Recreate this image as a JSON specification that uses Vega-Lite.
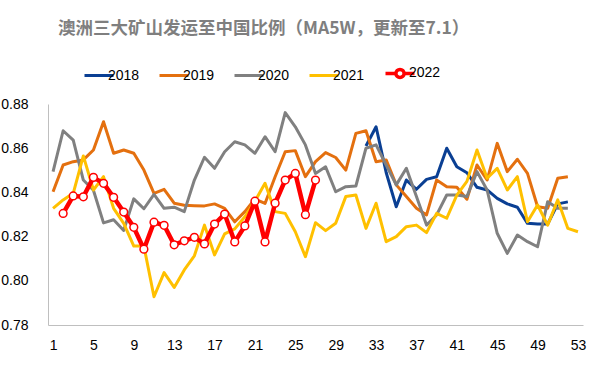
{
  "$schema": "https://vega.github.io/schema/vega-lite/v6.json",
  "width": 535,
  "height": 221,
  "autosize": {"type": "none"},
  "padding": {"left": 48, "top": 104, "right": 8, "bottom": 42},
  "background": "white",
  "title": {
    "text": "澳洲三大矿山发运至中国比例（MA5W，更新至7.1）",
    "anchor": "start",
    "frame": "group",
    "dx": 10,
    "offset": 29,
    "font": "Noto Sans CJK SC",
    "fontSize": 17.5,
    "fontWeight": "bold",
    "color": "#7f7f7f"
  },
  "config": {
    "view": {"stroke": null},
    "axis": {
      "grid": false,
      "ticks": false,
      "domainColor": "#bfbfbf",
      "domainWidth": 1,
      "labelFont": "Liberation Sans",
      "labelFontSize": 14,
      "labelColor": "#000000",
      "title": null
    }
  },
  "data": {
    "values": [
      {"week": 32, "year": "2018", "value": 0.861},
      {"week": 33, "year": "2018", "value": 0.8697},
      {"week": 34, "year": "2018", "value": 0.849},
      {"week": 35, "year": "2018", "value": 0.8335},
      {"week": 36, "year": "2018", "value": 0.8456},
      {"week": 37, "year": "2018", "value": 0.8414},
      {"week": 38, "year": "2018", "value": 0.8459},
      {"week": 39, "year": "2018", "value": 0.8471},
      {"week": 40, "year": "2018", "value": 0.86},
      {"week": 41, "year": "2018", "value": 0.8516},
      {"week": 42, "year": "2018", "value": 0.8489},
      {"week": 43, "year": "2018", "value": 0.8423},
      {"week": 44, "year": "2018", "value": 0.8411},
      {"week": 45, "year": "2018", "value": 0.8373},
      {"week": 46, "year": "2018", "value": 0.8348},
      {"week": 47, "year": "2018", "value": 0.8333},
      {"week": 48, "year": "2018", "value": 0.826},
      {"week": 49, "year": "2018", "value": 0.8257},
      {"week": 50, "year": "2018", "value": 0.8257},
      {"week": 51, "year": "2018", "value": 0.8348},
      {"week": 52, "year": "2018", "value": 0.8357},
      {"week": 1, "year": "2019", "value": 0.8403},
      {"week": 2, "year": "2019", "value": 0.8524},
      {"week": 3, "year": "2019", "value": 0.8539},
      {"week": 4, "year": "2019", "value": 0.8547},
      {"week": 5, "year": "2019", "value": 0.8592},
      {"week": 6, "year": "2019", "value": 0.872},
      {"week": 7, "year": "2019", "value": 0.8577},
      {"week": 8, "year": "2019", "value": 0.8592},
      {"week": 9, "year": "2019", "value": 0.8577},
      {"week": 10, "year": "2019", "value": 0.8501},
      {"week": 11, "year": "2019", "value": 0.8396},
      {"week": 12, "year": "2019", "value": 0.8414},
      {"week": 13, "year": "2019", "value": 0.8351},
      {"week": 14, "year": "2019", "value": 0.8342},
      {"week": 15, "year": "2019", "value": 0.834},
      {"week": 16, "year": "2019", "value": 0.8339},
      {"week": 17, "year": "2019", "value": 0.8348},
      {"week": 18, "year": "2019", "value": 0.8328},
      {"week": 19, "year": "2019", "value": 0.8267},
      {"week": 20, "year": "2019", "value": 0.8313},
      {"week": 21, "year": "2019", "value": 0.837},
      {"week": 22, "year": "2019", "value": 0.835},
      {"week": 23, "year": "2019", "value": 0.8471},
      {"week": 24, "year": "2019", "value": 0.8584},
      {"week": 25, "year": "2019", "value": 0.8589},
      {"week": 26, "year": "2019", "value": 0.8471},
      {"week": 27, "year": "2019", "value": 0.8539},
      {"week": 28, "year": "2019", "value": 0.858},
      {"week": 29, "year": "2019", "value": 0.8558},
      {"week": 30, "year": "2019", "value": 0.8501},
      {"week": 31, "year": "2019", "value": 0.8667},
      {"week": 32, "year": "2019", "value": 0.8679},
      {"week": 33, "year": "2019", "value": 0.8539},
      {"week": 34, "year": "2019", "value": 0.8547},
      {"week": 35, "year": "2019", "value": 0.8434},
      {"week": 36, "year": "2019", "value": 0.8381},
      {"week": 37, "year": "2019", "value": 0.8328},
      {"week": 38, "year": "2019", "value": 0.8298},
      {"week": 39, "year": "2019", "value": 0.8456},
      {"week": 40, "year": "2019", "value": 0.8426},
      {"week": 41, "year": "2019", "value": 0.8423},
      {"week": 42, "year": "2019", "value": 0.8369},
      {"week": 43, "year": "2019", "value": 0.8524},
      {"week": 44, "year": "2019", "value": 0.8456},
      {"week": 45, "year": "2019", "value": 0.8622},
      {"week": 46, "year": "2019", "value": 0.8494},
      {"week": 47, "year": "2019", "value": 0.855},
      {"week": 48, "year": "2019", "value": 0.8486},
      {"week": 49, "year": "2019", "value": 0.8335},
      {"week": 50, "year": "2019", "value": 0.8328},
      {"week": 51, "year": "2019", "value": 0.8464},
      {"week": 52, "year": "2019", "value": 0.8471},
      {"week": 1, "year": "2020", "value": 0.8494},
      {"week": 2, "year": "2020", "value": 0.8679},
      {"week": 3, "year": "2020", "value": 0.8637},
      {"week": 4, "year": "2020", "value": 0.8456},
      {"week": 5, "year": "2020", "value": 0.841},
      {"week": 6, "year": "2020", "value": 0.8262},
      {"week": 7, "year": "2020", "value": 0.8276},
      {"week": 8, "year": "2020", "value": 0.8228},
      {"week": 9, "year": "2020", "value": 0.8371},
      {"week": 10, "year": "2020", "value": 0.8326},
      {"week": 11, "year": "2020", "value": 0.8391},
      {"week": 12, "year": "2020", "value": 0.8328},
      {"week": 13, "year": "2020", "value": 0.8333},
      {"week": 14, "year": "2020", "value": 0.8313},
      {"week": 15, "year": "2020", "value": 0.8456},
      {"week": 16, "year": "2020", "value": 0.8559},
      {"week": 17, "year": "2020", "value": 0.8509},
      {"week": 18, "year": "2020", "value": 0.8584},
      {"week": 19, "year": "2020", "value": 0.8629},
      {"week": 20, "year": "2020", "value": 0.8615},
      {"week": 21, "year": "2020", "value": 0.8577},
      {"week": 22, "year": "2020", "value": 0.8652},
      {"week": 23, "year": "2020", "value": 0.8584},
      {"week": 24, "year": "2020", "value": 0.8761},
      {"week": 25, "year": "2020", "value": 0.8697},
      {"week": 26, "year": "2020", "value": 0.8615},
      {"week": 27, "year": "2020", "value": 0.8486},
      {"week": 28, "year": "2020", "value": 0.8516},
      {"week": 29, "year": "2020", "value": 0.8403},
      {"week": 30, "year": "2020", "value": 0.8426},
      {"week": 31, "year": "2020", "value": 0.8429},
      {"week": 32, "year": "2020", "value": 0.86},
      {"week": 33, "year": "2020", "value": 0.8615},
      {"week": 34, "year": "2020", "value": 0.8524},
      {"week": 35, "year": "2020", "value": 0.8434},
      {"week": 36, "year": "2020", "value": 0.8509},
      {"week": 37, "year": "2020", "value": 0.8381},
      {"week": 38, "year": "2020", "value": 0.8252},
      {"week": 39, "year": "2020", "value": 0.8298},
      {"week": 40, "year": "2020", "value": 0.8388},
      {"week": 41, "year": "2020", "value": 0.8388},
      {"week": 42, "year": "2020", "value": 0.8381},
      {"week": 43, "year": "2020", "value": 0.8494},
      {"week": 44, "year": "2020", "value": 0.8411},
      {"week": 45, "year": "2020", "value": 0.8215},
      {"week": 46, "year": "2020", "value": 0.8124},
      {"week": 47, "year": "2020", "value": 0.8207},
      {"week": 48, "year": "2020", "value": 0.8177},
      {"week": 49, "year": "2020", "value": 0.8154},
      {"week": 50, "year": "2020", "value": 0.8358},
      {"week": 51, "year": "2020", "value": 0.8328},
      {"week": 52, "year": "2020", "value": 0.8328},
      {"week": 1, "year": "2021", "value": 0.8328},
      {"week": 2, "year": "2021", "value": 0.8366},
      {"week": 3, "year": "2021", "value": 0.8396},
      {"week": 4, "year": "2021", "value": 0.8565},
      {"week": 5, "year": "2021", "value": 0.8411},
      {"week": 6, "year": "2021", "value": 0.8471},
      {"week": 7, "year": "2021", "value": 0.8328},
      {"week": 8, "year": "2021", "value": 0.826},
      {"week": 9, "year": "2021", "value": 0.8157},
      {"week": 10, "year": "2021", "value": 0.8157},
      {"week": 11, "year": "2021", "value": 0.7928},
      {"week": 12, "year": "2021", "value": 0.8037},
      {"week": 13, "year": "2021", "value": 0.797},
      {"week": 14, "year": "2021", "value": 0.8049},
      {"week": 15, "year": "2021", "value": 0.8113},
      {"week": 16, "year": "2021", "value": 0.8252},
      {"week": 17, "year": "2021", "value": 0.8117},
      {"week": 18, "year": "2021", "value": 0.8212},
      {"week": 19, "year": "2021", "value": 0.8235},
      {"week": 20, "year": "2021", "value": 0.829},
      {"week": 21, "year": "2021", "value": 0.836},
      {"week": 22, "year": "2021", "value": 0.8441},
      {"week": 23, "year": "2021", "value": 0.8313},
      {"week": 24, "year": "2021", "value": 0.8305},
      {"week": 25, "year": "2021", "value": 0.8222},
      {"week": 26, "year": "2021", "value": 0.8109},
      {"week": 27, "year": "2021", "value": 0.8263},
      {"week": 28, "year": "2021", "value": 0.8227},
      {"week": 29, "year": "2021", "value": 0.826},
      {"week": 30, "year": "2021", "value": 0.8381},
      {"week": 31, "year": "2021", "value": 0.8388},
      {"week": 32, "year": "2021", "value": 0.8237},
      {"week": 33, "year": "2021", "value": 0.8351},
      {"week": 34, "year": "2021", "value": 0.8177},
      {"week": 35, "year": "2021", "value": 0.82},
      {"week": 36, "year": "2021", "value": 0.8245},
      {"week": 37, "year": "2021", "value": 0.8252},
      {"week": 38, "year": "2021", "value": 0.8218},
      {"week": 39, "year": "2021", "value": 0.8305},
      {"week": 40, "year": "2021", "value": 0.8283},
      {"week": 41, "year": "2021", "value": 0.8388},
      {"week": 42, "year": "2021", "value": 0.845},
      {"week": 43, "year": "2021", "value": 0.8592},
      {"week": 44, "year": "2021", "value": 0.8464},
      {"week": 45, "year": "2021", "value": 0.8509},
      {"week": 46, "year": "2021", "value": 0.8411},
      {"week": 47, "year": "2021", "value": 0.8471},
      {"week": 48, "year": "2021", "value": 0.8267},
      {"week": 49, "year": "2021", "value": 0.8343},
      {"week": 50, "year": "2021", "value": 0.8252},
      {"week": 51, "year": "2021", "value": 0.8366},
      {"week": 52, "year": "2021", "value": 0.8237},
      {"week": 53, "year": "2021", "value": 0.8222},
      {"week": 2, "year": "2022", "value": 0.8305},
      {"week": 3, "year": "2022", "value": 0.8384},
      {"week": 4, "year": "2022", "value": 0.838},
      {"week": 5, "year": "2022", "value": 0.8468},
      {"week": 6, "year": "2022", "value": 0.8441},
      {"week": 7, "year": "2022", "value": 0.8378},
      {"week": 8, "year": "2022", "value": 0.8311},
      {"week": 9, "year": "2022", "value": 0.8242},
      {"week": 10, "year": "2022", "value": 0.8143},
      {"week": 11, "year": "2022", "value": 0.8265},
      {"week": 12, "year": "2022", "value": 0.8251},
      {"week": 13, "year": "2022", "value": 0.8163},
      {"week": 14, "year": "2022", "value": 0.8181},
      {"week": 15, "year": "2022", "value": 0.8197},
      {"week": 16, "year": "2022", "value": 0.8167},
      {"week": 17, "year": "2022", "value": 0.8257},
      {"week": 18, "year": "2022", "value": 0.8302},
      {"week": 19, "year": "2022", "value": 0.8176},
      {"week": 20, "year": "2022", "value": 0.8248},
      {"week": 21, "year": "2022", "value": 0.836},
      {"week": 22, "year": "2022", "value": 0.8176},
      {"week": 23, "year": "2022", "value": 0.8351},
      {"week": 24, "year": "2022", "value": 0.8456},
      {"week": 25, "year": "2022", "value": 0.8486},
      {"week": 26, "year": "2022", "value": 0.8299},
      {"week": 27, "year": "2022", "value": 0.8456}
    ]
  },
  "encoding": {
    "x": {
      "field": "week",
      "type": "quantitative",
      "scale": {"domain": [0.5, 53.5], "nice": false, "zero": false},
      "axis": {"values": [1, 5, 9, 13, 17, 21, 25, 29, 33, 37, 41, 45, 49, 53], "labelPadding": 13, "labelFlush": false, "labelOverlap": false}
    },
    "y": {
      "field": "value",
      "type": "quantitative",
      "scale": {"domain": [0.78, 0.88], "nice": false, "zero": false},
      "axis": {"values": [0.78, 0.8, 0.82, 0.84, 0.86, 0.88], "format": ".2f", "labelPadding": 20, "labelFlush": false, "labelOverlap": false}
    }
  },
  "layer": [
    {
      "transform": [{"filter": "datum.year !== '2022'"}],
      "mark": {"type": "line", "strokeWidth": 3, "strokeJoin": "round"},
      "encoding": {
        "color": {
          "field": "year",
          "type": "nominal",
          "scale": {"domain": ["2018", "2019", "2020", "2021", "2022"], "range": ["#0a3f93", "#e4700f", "#808080", "#ffc000", "#ff0000"]},
          "legend": {
            "orient": "none",
            "legendX": 44,
            "legendY": -38,
            "direction": "horizontal",
            "title": null,
            "symbolType": "stroke",
            "symbolSize": 841,
            "symbolStrokeWidth": 3,
            "labelFont": "Liberation Sans",
            "labelFontSize": 14,
            "labelColor": "#000000",
            "labelOffset": 2,
            "columnPadding": 13,
            "encode": {
              "symbols": {
                "update": {
                  "shape": {"signal": "datum.value === '2022' ? 'M-1,0L-0.3,0M0.3,0L1,0M-0.28,0A0.28,0.28 0 1,1 0.28,0A0.28,0.28 0 1,1 -0.28,0' : 'stroke'"},
                  "fill": {"signal": "datum.value === '2022' ? '#ffffff' : 'transparent'"},
                  "strokeWidth": {"signal": "datum.value === '2022' ? 3.5 : 3"}
                }
              }
            }
          }
        }
      }
    },
    {
      "transform": [{"filter": "datum.year === '2022'"}],
      "mark": {"type": "line", "strokeWidth": 4.5, "strokeJoin": "round"},
      "encoding": {
        "color": {"field": "year", "type": "nominal"}
      }
    },
    {
      "transform": [{"filter": "datum.year === '2022'"}],
      "mark": {"type": "point", "shape": "circle", "size": 60, "fill": "#ffffff", "stroke": "#ff0000", "strokeWidth": 1.5, "opacity": 1, "filled": false}
    }
  ]
}
